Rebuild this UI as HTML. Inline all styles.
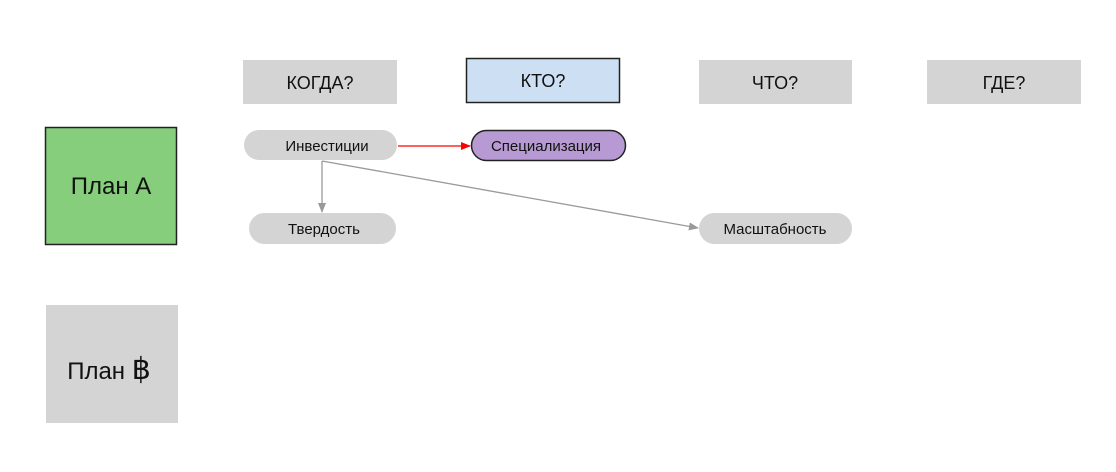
<!DOCTYPE html>
<html><head><meta charset="utf-8"><style>
body{margin:0;background:#fff;width:1116px;height:467px;overflow:hidden}
svg text{font-family:"Liberation Sans",sans-serif;fill:#111}
</style></head><body>
<svg width="1116" height="467" xmlns="http://www.w3.org/2000/svg">
<defs>
<marker id="r" markerWidth="10" markerHeight="8" refX="9" refY="4" orient="auto" markerUnits="userSpaceOnUse"><path d="M0,0L10,4L0,8z" fill="#f00"/></marker>
<marker id="g" markerWidth="10" markerHeight="8" refX="9" refY="4" orient="auto" markerUnits="userSpaceOnUse"><path d="M0,0L10,4L0,8z" fill="#999"/></marker>
</defs>
<rect x="243" y="60" width="154" height="44" fill="#d4d4d4"/>
<text x="320" y="89" font-size="18" text-anchor="middle">КОГДА?</text>
<rect x="466.5" y="58.5" width="153" height="44" fill="#cde0f3" stroke="#222" stroke-width="1.5"/>
<text x="543" y="87" font-size="18" text-anchor="middle">КТО?</text>
<rect x="699" y="60" width="153" height="44" fill="#d4d4d4"/>
<text x="775" y="89" font-size="18" text-anchor="middle">ЧТО?</text>
<rect x="927" y="60" width="154" height="44" fill="#d4d4d4"/>
<text x="1004" y="89" font-size="18" text-anchor="middle">ГДЕ?</text>
<rect x="45.5" y="127.5" width="131" height="117" fill="#86cd7c" stroke="#222" stroke-width="1.5"/>
<text x="111" y="194" font-size="24" text-anchor="middle">План А</text>
<rect x="46" y="305" width="132" height="118" fill="#d4d4d4"/>
<text x="109" y="379" font-size="24" text-anchor="middle">План <tspan font-size="30">฿</tspan></text>
<rect x="244" y="130" width="153" height="30" rx="15" fill="#d4d4d4"/>
<text x="327" y="151" font-size="15" text-anchor="middle">Инвестиции</text>
<rect x="471.5" y="130.5" width="154" height="30" rx="15" fill="#b79ad3" stroke="#222" stroke-width="1.5"/>
<text x="546" y="151" font-size="15" text-anchor="middle">Специализация</text>
<rect x="249" y="213" width="147" height="31" rx="15.5" fill="#d4d4d4"/>
<text x="324" y="234" font-size="15" text-anchor="middle">Твердость</text>
<rect x="699" y="213" width="153" height="31" rx="15.5" fill="#d4d4d4"/>
<text x="775" y="234" font-size="15" text-anchor="middle">Масштабность</text>
<line x1="398" y1="146" x2="470" y2="146" stroke="#f00" stroke-width="1.3" marker-end="url(#r)"/>
<line x1="322" y1="161" x2="322" y2="212" stroke="#999" stroke-width="1.3" marker-end="url(#g)"/>
<line x1="322" y1="161" x2="698" y2="228" stroke="#999" stroke-width="1.3" marker-end="url(#g)"/>
</svg>
</body></html>
